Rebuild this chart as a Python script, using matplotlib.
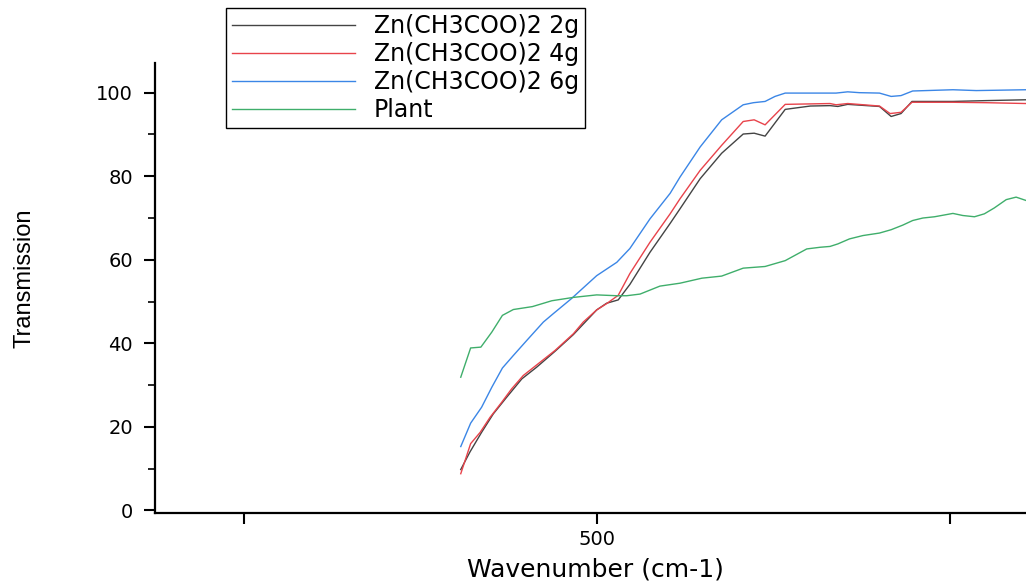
import numpy as np
import matplotlib
matplotlib.use("Agg")
import matplotlib.pyplot as plt
from matplotlib.ticker import FixedLocator, MultipleLocator

# Data
x_2g = [461.4, 464.0, 467.3, 470.6, 474.4, 478.7, 482.9, 488.1, 493.3, 499.9, 502.7, 506.0, 509.3,
        515.0, 520.7, 523.5, 529.2, 535.3, 541.4, 544.5, 547.6, 553.3, 560.4, 566.0, 568.2, 571.0,
        580.0, 583.3, 586.1, 589.2, 600.8, 610.2, 621.5]
y_2g = [9.8, 14.0, 18.7, 23.1, 27.1, 31.5, 34.3, 38.1, 42.1, 48.0, 49.6, 50.4, 54.1,
        61.8, 68.7, 72.2, 79.4, 85.5, 90.1, 90.3, 89.6, 96.0, 96.8, 96.9, 96.7, 97.2,
        96.7, 94.3, 95.0, 97.9, 97.9, 98.1, 98.3]

x_4g = [461.4, 464.2, 466.9, 469.7, 473.0, 475.8, 479.1, 483.9, 488.1, 493.3, 496.1, 499.9, 502.7,
        506.0, 509.3, 515.0, 520.7, 523.5, 529.2, 535.3, 541.4, 544.5, 547.6, 553.3, 566.0, 567.7,
        571.0, 580.0, 583.0, 586.1, 589.2, 600.8, 610.2, 621.5]
y_4g = [8.8, 16.0, 18.7, 22.3, 25.9, 29.1, 32.3, 35.5, 38.3, 42.3, 45.1, 48.0, 49.5,
        51.5, 56.7, 64.2, 71.0, 74.6, 81.4, 87.4, 93.1, 93.5, 92.3, 97.2, 97.4, 97.1,
        97.4, 96.8, 95.0, 95.3, 97.7, 97.7, 97.6, 97.4]

x_6g = [461.4, 464.2, 467.3, 470.2, 473.2, 476.3, 480.1, 484.8, 487.6, 492.6, 499.9, 505.6, 509.3,
        515.0, 520.7, 523.5, 529.2, 535.3, 541.4, 544.3, 547.6, 550.4, 553.3, 566.0, 567.7, 571.0,
        574.3, 580.0, 583.3, 586.1, 589.4, 593.2, 600.8, 607.4, 621.5]
y_6g = [15.3, 20.9, 24.7, 29.5, 34.1, 37.1, 40.7, 45.1, 47.1, 50.6, 56.2, 59.4, 62.7,
        69.8, 75.9, 79.8, 87.0, 93.5, 97.1, 97.6, 97.9, 99.1, 99.9, 99.9, 99.9, 100.2,
        100.0, 99.9, 99.1, 99.3, 100.4, 100.5, 100.7, 100.5, 100.7]

x_plant = [461.4, 464.2, 467.1, 470.2, 473.2, 476.3, 481.7, 487.2, 493.3, 499.9, 505.6, 508.4,
           512.2, 517.8, 523.5, 529.7, 535.3, 541.4, 547.6, 553.3, 559.4, 563.2, 566.0, 568.2,
           571.5, 575.3, 580.0, 583.3, 586.6, 589.4, 592.3, 595.6, 600.8, 603.6, 606.9, 609.7,
           612.5, 615.9, 618.7, 621.5]
y_plant = [31.9, 38.9, 39.1, 42.7, 46.7, 48.1, 48.8, 50.2, 51.0, 51.6, 51.4, 51.4,
           51.8, 53.7, 54.4, 55.6, 56.1, 58.0, 58.4, 59.8, 62.6, 63.0, 63.2, 63.8,
           65.0, 65.8, 66.4, 67.2, 68.3, 69.4, 70.0, 70.3, 71.1, 70.6, 70.3, 71.0,
           72.4, 74.4, 75.0, 74.2]

labels = ["Zn(CH3COO)2 2g", "Zn(CH3COO)2 4g", "Zn(CH3COO)2 6g", "Plant"]
colors = ["#444444", "#e8434b", "#3b86e6", "#3fae6b"]

x_major = [400, 500, 600]
x_ticklabels = ["", "500", ""]

plt.rcParams['font.family'] = ['DejaVu Sans']

fig = plt.figure(figsize=(10.26, 5.87), dpi=100)
ax = fig.add_axes([155 / 1026, 74 / 587, 871 / 1026, 450 / 587])

series = [(x_2g, y_2g), (x_4g, y_4g), (x_6g, y_6g), (x_plant, y_plant)]
for (xs, ys), lab, col in zip(series, labels, colors):
    ax.plot(xs, ys, color=col, linewidth=1.0, label=lab)

ax.set_xlim(374.8, 621.5)
ax.set_ylim(-0.6, 107.1)

for side in ['top', 'right']:
    ax.spines[side].set_visible(False)
for side in ['left', 'bottom']:
    ax.spines[side].set_linewidth(1.6)
    ax.spines[side].set_color('black')

ax.xaxis.set_major_locator(FixedLocator(x_major))
ax.set_xticklabels(x_ticklabels)
ax.yaxis.set_major_locator(MultipleLocator(20))
ax.yaxis.set_minor_locator(MultipleLocator(10))
ax.tick_params(axis='both', which='major', direction='out', length=8, width=1.5,
               labelsize=14)
ax.tick_params(axis='x', which='major', pad=4)
ax.tick_params(axis='y', which='major', pad=8)
ax.tick_params(axis='y', which='minor', direction='out', length=5, width=1.2)

ax.set_xlabel("Wavenumber (cm-1)", fontsize=18)
ax.xaxis.set_label_coords(0.506, -0.098)
ax.set_ylabel("Transmission", fontsize=17, family=['Liberation Sans', 'DejaVu Sans'])
ax.yaxis.set_label_coords(-0.137, 0.522)

leg = ax.legend(loc='upper left', bbox_to_anchor=(226 / 1026, 1 - 8 / 587),
                bbox_transform=fig.transFigure, fontsize=17, frameon=True, fancybox=False,
                framealpha=1, edgecolor='black', borderpad=0.25, labelspacing=0.17,
                handlelength=5.2, handletextpad=0.8, borderaxespad=0)
leg.get_frame().set_linewidth(1.0)

fig.savefig("out.png", dpi=100)
